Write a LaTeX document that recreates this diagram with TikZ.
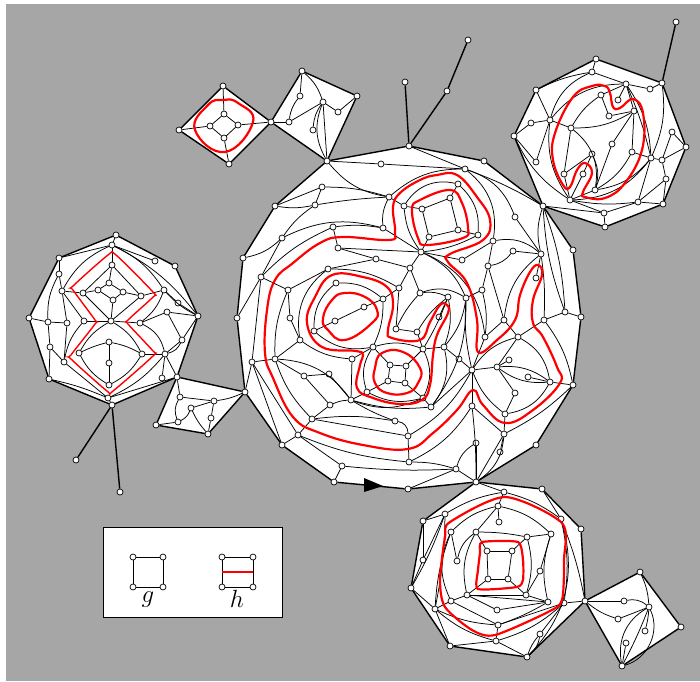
\documentclass[tikz,border=0pt]{standalone}
\usepackage{tikz}
\usetikzlibrary{backgrounds}

\begin{document}
\begin{tikzpicture}[
    x=1pt, y=-1pt,
    vtx/.style={circle, draw=black, fill=white, inner sep=0pt, minimum size=6pt, line width=0.7pt},
    keybox/.style={rectangle, draw=black, fill=white, line width=0.6pt, inner sep=0pt, minimum width=179pt, minimum height=90pt},
    keytext/.style={inner sep=0pt, font=\fontsize{25}{30}\selectfont},
    edge/.style={draw=black, line width=0.75pt},
    rim/.style={draw=black, line width=1.4pt},
    cut/.style={draw=red, line width=2.2pt},
    thincut/.style={draw=red, line width=1.4pt}
]
\useasboundingbox (0,0) rectangle (700,681);

\node[keybox] (key) at (192.5,572) {};
\node[keytext] (gtext) at (148,600) {$g$};
\node[keytext] (htext) at (237,599) {$h$};

\foreach \n/\x/\y in {k1/133/557,k2/163/557,k3/133/587,k4/163/587,k5/222/557,k6/253/557,k7/222/587,k8/253/587}
  \node[vtx] (\n) at (\x,\y) {};

\foreach \n/\x/\y in {a1/327/161,a2/409/146,a3/484/161,a4/543/206,a5/573/250,a6/581/317,a7/573/385,a8/536/445,a9/476/482,a10/408/489,a11/334/482,a12/282/445,a13/245/392,a14/237/318,a15/243/258,a16/275/206,
  b1/381/164,b2/465/169,b3/322/187,b4/389/197,b5/315/205,b6/404/206,b7/333/227,b8/383/228,b9/282/238,b10/338/248,b11/376/259,b12/328/269,b13/261/277,b14/410/268,b15/336/283,b16/399/288,b17/288/290,b18/383/299,b19/364/307,b20/290/318,b21/335/321,b22/314/331,b23/300/340,b24/373/347,b25/396/329,b26/417/332,b27/352/359,b28/275/359,b29/252/362,b30/304/376,b31/329/374,b32/390/365,b33/406/366,b34/388/381,b35/405/383,b36/367/392,b37/351/400,b38/330/405,b39/312/419,b40/395/421,b41/298/435,b42/423/398,b43/431/407,b44/408/436,b45/409/462,b46/342/466,
  c1/458/184,c2/450/198,c3/422/209,c4/458/230,c5/429/237,c6/478/235,c7/493/241,c8/515/217,c9/513/251,c10/421/252,c11/541/254,c12/462/260,c13/488/266,c14/536/278,c15/482/290,c16/420/293,c17/448/297,c18/466/298,c19/439/317,c20/565/312,c21/504/320,c22/544/320,c23/485/337,c24/518/337,c25/423/349,c26/444/347,c27/459/359,c28/472/370,c29/509/360,c30/497/367,c31/528/377,c32/550/382,c33/515/393,c34/472/406,c35/505/414,c36/504/434,c37/476/443,c38/500/452,c39/456/469}
  \node[vtx] (\n) at (\x,\y) {};

\foreach \n/\x/\y in {d1/223/86,d2/179/130,d3/229/164,d4/271/122,d5/224/114,d6/210/126,d7/238/125,d8/224/138,
  e1/302/71,e2/357/96,e4/300/96,e5/323/102,e6/338/112,e7/289/122,e8/313/130,
  s1/405/82,s2/447/91,s3/468/40,s4/676/22,s5/76/460,s6/120/492,
  f1/596/59,f2/592/72,f3/536/90,f4/626/84,f5/650/89,f6/662/83,f7/601/95,f8/618/100,f9/634/111,f10/609/116,f11/550/120,f12/531/123,f13/571/128,f14/514/136,f15/672/132,f16/686/147,f17/612/144,f18/632/152,f19/592/154,f20/651/158,f21/662/160,f22/536/162,f23/564/174,f24/583/174,f25/666/179,f26/595/190,f27/570/200,f28/638/202,f29/663/204,f30/604/213,f31/605/227,
  g1/177/377,g3/208/434,g4/156/425,g5/180/397,g6/214/401,g7/191/408,g8/211/418,g9/178/422,
  i0/585/601,i1/640/572,i2/681/627,i3/622/666,i4/624/601,i5/649/607,i6/618/619,i7/645/631,i8/626/643}
  \node[vtx] (\n) at (\x,\y) {};

\foreach \n/\x/\y in {l1/116/235,l2/112/245,l3/59/258,l4/155/261,l5/175/266,l6/112/265,l7/59/274,l8/109/283,l9/62/291,l10/83/293,l11/98/290,l12/123/292,l13/141/296,l14/164/290,l15/113/300,l16/178/303,l17/167/312,l18/198/316,l19/29/318,l20/48/322,l21/67/323,l22/84/321,l23/111/321,l24/140/323,l25/182/340,l26/109/342,l27/50/347,l28/79/353,l29/142/354,l30/165/354,l31/64/362,l32/109/363,l33/162/378,l35/49/379,l36/109/385,l37/108/398,l38/112/405,
  h2/504/492,h3/542/489,h4/498/506,h5/445/514,h6/423/521,h7/561/519,h8/499/522,h9/581/529,h10/451/532,h11/476/532,h12/551/534,h13/527/537,h14/487/551,h15/512/551,h16/457/561,h17/423/560,h18/540/571,h19/488/579,h20/508/579,h21/411/588,h22/467/595,h23/526/595,h24/451/601,h25/548/602,h26/564/603,h27/435/609,h28/497/610,h30/498/625,h31/540/634,h32/496/641,h33/450/646,h34/527/657}
  \node[vtx] (\n) at (\x,\y) {};

\begin{scope}[on background layer]
\fill[black!35] (6,4) rectangle (700,681);
\fill[white] (a1.center) -- (a2.center) -- (a3.center) -- (a4.center) -- (a5.center) -- (a6.center) -- (a7.center) -- (a8.center) -- (a9.center) -- (a10.center) -- (a11.center) -- (a12.center) -- (a13.center) -- (a14.center) -- (a15.center) -- (a16.center) -- cycle;
\fill[white] (d1.center) -- (d2.center) -- (d3.center) -- (d4.center) -- cycle;
\fill[white] (e1.center) -- (e2.center) -- (a1.center) -- (d4.center) -- cycle;
\fill[white] (f1.center) -- (f6.center) -- (f16.center) -- (f29.center) -- (f31.center) -- (a4.center) -- (f14.center) -- (f3.center) -- cycle;
\fill[white] (l1.center) -- (l5.center) -- (l18.center) -- (g1.center) -- (l38.center) -- (l35.center) -- (l19.center) -- (l3.center) -- cycle;
\fill[white] (g1.center) -- (a13.center) -- (g3.center) -- (g4.center) -- cycle;
\fill[white] (a9.center) -- (h3.center) -- (h9.center) -- (i0.center) -- (h34.center) -- (h33.center) -- (h21.center) -- (h6.center) -- cycle;
\fill[white] (i0.center) -- (i1.center) -- (i2.center) -- (i3.center) -- cycle;
\end{scope}

\draw[rim] (a1) -- (a2) -- (a3) -- (a4) -- (a5) -- (a6) -- (a7) -- (a8) -- (a9) -- (a10) -- (a11) -- (a12) -- (a13) -- (a14) -- (a15) -- (a16) -- (a1);
\draw[rim] (d1) -- (d2) -- (d3) -- (d4) -- (d1);
\draw[rim] (e1) -- (e2) -- (a1) -- (d4) -- (e1);
\draw[rim] (f1) -- (f6) -- (f16) -- (f29) -- (f31) -- (a4) -- (f14) -- (f3) -- (f1);
\draw[rim] (l1) -- (l5) -- (l18) -- (g1) -- (l38) -- (l35) -- (l19) -- (l3) -- (l1);
\draw[rim] (g1) -- (a13) -- (g3) -- (g4) -- (g1);
\draw[rim] (a9) -- (h3) -- (h9) -- (i0) -- (h34) -- (h33) -- (h21) -- (h6) -- (a9);
\draw[rim] (i0) -- (i1) -- (i2) -- (i3) -- (i0);
\draw[rim] (a2) -- (s1);
\draw[rim] (a2) -- (s2) -- (s3);
\draw[rim] (f6) -- (s4);
\draw[rim] (l38) -- (s5);
\draw[rim] (l38) -- (s6);
\draw[edge] (k1) -- (k2) -- (k4) -- (k3) -- (k1);
\draw[edge] (k5) -- (k6) -- (k8) -- (k7) -- (k5);

\foreach \p/\q in {a1/b1,b1/b2,a2/b2,a16/b3,b3/b5,b7/b10,b10/b11,b11/b14,b12/b11,b12/b17,b13/b17,b13/b9,b13/a14,b13/b29,b4/b6,b17/b20,b20/b23,b23/b28,b22/b21,b21/b19,b19/b18,b18/b16,b16/b14,b16/b25,b25/b26,b24/b27,b27/b37,b36/b37,b29/b28,a13/b29,b29/b41,b29/a12,b28/b30,b30/b31,b30/b38,b31/b37,b38/b39,b39/b41,b41/a12,b41/b46,b46/a11,b44/b45,b32/b33,b33/b35,b35/b34,b34/b32,b32/b24,b33/c25,b35/b42,b34/b36,
  c3/c2,c2/c4,c4/c5,c5/c3,b6/c3,c1/c2,c4/c6,c5/c10,b8/c10,c10/b10,c10/c12,c12/c7,c7/c13,c13/c15,c15/c18,c13/c21,b14/c10,c8/c11,c9/c11,c11/c14,c20/a6,c20/c22,c21/c23,c21/c24,c24/c22,c23/c28,c24/c30,c29/c30,c28/c30,c30/c33,c33/c35,c31/c32,c32/a7,c28/c34,c34/c36,c35/c36,c36/a9,c36/c38,c37/a9,c39/a9,a10/c39,b43/c28,b43/b42,c26/c27,c27/c28,c25/c26,b26/c25,c17/c19,b39/b44,b14/c16}
  \draw[edge] (\p) -- (\q);

\foreach \p/\q/\b in {a1/b4/-20,b3/b4/8,a16/b5/-10,b5/b4/3,b5/b9/-10,b9/a15/15,b9/b8/20,b7/b8/8,b13/b7/10,b4/b8/-15,b4/b2/20,b6/c1/35,c1/c6/25,c10/c6/-10,b6/c10/-15,b2/c7/30,b2/a4/5,b2/c8/25,c7/c11/25,c13/c9/-20,c10/c18/20,c10/c23/30,c16/c18/25,c16/c17/15,c16/b25/-8,c17/c25/5,c17/b26/-10,c17/c26/15,c18/c26/15,c18/c28/-8,c18/b43/18,c15/c23/10,c11/c21/-22,c11/c22/5,a4/c11/-15,a4/c20/8,a4/c20/-8,c24/c28/-20,c24/c32/25,c22/a7/12,c30/c32/20,c30/c32/-20,c32/c35/25,c28/c35/-15,a7/c36/8,c36/a9/25,c34/a9/3,c37/c39/-20,b45/c39/8,b46/c39/-4,b40/b44/40,b44/c28/-15,b45/c34/-15,b37/b43/-10,b43/c26/-25,c25/b42/25,b24/c25/18,b24/b36/-25,b36/b42/-20,b37/b42/-22,b18/b24/12,b12/b16/15,b12/b23/-30,b15/b18/20,b15/b22/-25,b22/b24/-25,b23/b27/-15,b28/b37/25,b38/b37/10,b39/b40/8,b37/b40/-5,b28/b39/-12,b41/b45/-8,b28/b17/12}
  \draw[edge] (\p) to[bend left=\b] (\q);

\foreach \p/\q in {d1/d5,d6/d2,d7/d4,d8/d3,d5/d6,d6/d8,d8/d7,d7/d5,d4/e7,e4/e1,e7/e5,e5/e6,e6/e2,e5/a1,
  f1/f2,f4/f2,f4/f5,f5/f6,f4/f7,f4/f8,f4/f9,f7/f10,f10/f9,f9/f17,f17/f26,f9/f18,f18/f20,f11/f13,f3/f11,f12/f11,f14/f12,f11/f22,f14/f22,f13/f23,f19/f23,f19/f24,f24/f27,f23/f27,f27/f26,f27/f30,a4/f30,f30/f28,f28/f29,f28/f20,f25/f28,f21/f25,f25/f29,f20/f21,f21/f15,f15/f16,f21/f16,f30/f31,
  g1/g5,g5/g6,g7/g6,g9/g4,g6/g8,g8/g3,i0/i4,i6/i5,i8/i3}
  \draw[edge] (\p) -- (\q);

\foreach \p/\q/\b in {e4/e7/-15,e5/e1/-15,e5/a1/-25,e5/e8/-15,f2/f3/-8,f4/f11/-25,f2/f11/-25,f11/f27/-20,f14/f27/-15,f7/f13/-12,f9/f13/15,f18/f26/15,f13/f26/30,f19/f26/20,f27/f20/-25,f26/f20/-20,f27/f28/-8,f6/f20/15,f4/f20/15,f4/f20/5,
  g6/a13/-8,g5/g9/-25,g9/g7/-20,g7/g3/-8,i4/i5/25,i0/i6/-10,i1/i5/10,i5/i7/5,i5/i3/50,i5/i3/3,i5/i3/-35}
  \draw[edge] (\p) to[bend left=\b] (\q);

\foreach \p/\q in {l2/l1,l2/l3,l2/l4,l3/l7,l7/l9,l9/l10,l10/l11,l11/l8,l8/l12,l12/l13,l11/l15,l12/l15,l15/l23,l8/l6,l6/l2,l6/l10,l6/l13,l10/l23,l13/l23,l14/l13,l14/l16,l16/l18,l24/l17,l17/l18,l17/l25,l25/l18,l25/l30,l22/l23,l23/l24,l26/l32,l32/l36,l19/l20,l20/l21,l20/l27,l27/l35,l27/l31,l9/l21,l21/l31,l9/l22,l29/l30,l30/l33,l30/g1,l37/g1,l37/l38,l31/l37,
  a9/h2,h2/h4,h4/h8,h4/h11,h5/h6,h5/h17,h17/h6,h17/h21,h21/h27,h3/h7,h10/h16,h14/h15,h15/h20,h20/h19,h19/h14,h14/h11,h15/h13,h19/h22,h20/h23,h22/h23,h13/h12,h12/h18,h18/h23,h22/h24,h24/h30,h27/h24,h22/h28,h28/h25,h22/h25,h23/h25,h26/h31,h30/h32,h27/h33,h33/h32,h32/h34,h26/i0,h26/h30}
  \draw[edge] (\p) -- (\q);

\foreach \p/\q/\b in {l2/l18/12,l2/l9/-18,l2/l14/15,l14/l18/-10,l14/l24/15,l25/l30/25,l24/l30/25,l23/l29/15,l23/l28/-15,l28/l26/5,l26/l29/8,l28/l36/-15,l29/l36/15,l35/l37/5,l30/l37/12,l22/l31/-15,l7/l20/-15,
  h5/h2/10,h2/h7/10,h7/h26/10,h7/i0/5,h7/h34/30,h31/h34/20,h31/h34/-10,h27/h30/-10,h27/h32/-12,h26/h32/12,h5/h21/5,h5/h27/5,h10/h24/-25,h11/h16/-20,h4/h10/-15,h4/h12/15,h11/h13/5,h13/h23/15,h11/h22/-20,h12/h25/-15,h10/h27/-8,h25/h30/5}
  \draw[edge] (\p) to[bend left=\b] (\q);

\draw[cut] plot[smooth cycle, tension=.7] coordinates {(400,193) (393,207) (395,232) (389,240) (343,237) (320,243) (293,263) (275,280) (267,310) (265,353) (273,378) (293,417) (320,433) (363,445) (408,449) (433,433) (457,410) (473,390) (483,405) (505,423) (533,410) (560,383) (557,367) (543,337) (533,323) (533,300) (542,275) (538,265) (530,272) (520,295) (515,320) (497,340) (478,352) (477,320) (467,283) (448,262) (450,254) (483,240) (490,220) (477,197) (457,175) (437,175) (420,180)};
\draw[cut] plot[smooth cycle, tension=.7] coordinates {(412,210) (420,200) (450,190) (462,203) (468,228) (463,238) (427,245) (418,238)};
\draw[cut] plot[smooth cycle, tension=.7] coordinates {(332,275) (363,277) (387,287) (393,305) (388,330) (392,338) (420,340) (430,322) (440,305) (447,305) (448,313) (437,335) (433,355) (430,385) (422,400) (400,404) (373,398) (357,388) (360,365) (363,355) (356,351) (322,347) (307,323) (315,297)};
\draw[cut] plot[smooth cycle, tension=.8] coordinates {(345,293) (365,297) (377,310) (372,323) (345,340) (328,330) (323,318) (332,300)};
\draw[cut] plot[smooth cycle, tension=.8] coordinates {(375,368) (382,353) (403,352) (420,368) (418,383) (407,393) (387,393) (375,383)};
\draw[cut] plot[smooth cycle, tension=.8] coordinates {(223,100) (238,103) (253,122) (225,152) (195,130) (208,105)};
\draw[cut] plot[smooth cycle, tension=.7] coordinates {(592,86) (605,86) (610,93) (613,107) (620,108) (633,99) (643,113) (642,150) (625,183) (605,198) (585,197) (583,192) (592,173) (585,163) (577,170) (570,187) (563,185) (553,160) (555,133) (573,97)};
\draw[thincut] plot[smooth cycle, tension=.45] coordinates {(108,255) (116,255) (153,292) (153,297) (128,320) (128,324) (153,351) (153,356) (113,391) (107,391) (71,359) (71,355) (95,324) (95,320) (73,290) (73,286)};
\draw[cut] plot[smooth cycle, tension=.45] coordinates {(450,522) (505,497) (562,523) (564,560) (562,600) (548,612) (495,635) (472,630) (445,607) (440,580) (445,537)};
\draw[cut] plot[smooth cycle, tension=.35] coordinates {(482,542) (518,542) (523,560) (523,580) (517,587) (478,589) (478,570) (480,553)};
\draw[cut] (k5 |- 0,572) -- (k6 |- 0,572);

\fill[black] (364,478) -- (383,486) -- (364,492) -- cycle;
\end{tikzpicture}
\end{document}
